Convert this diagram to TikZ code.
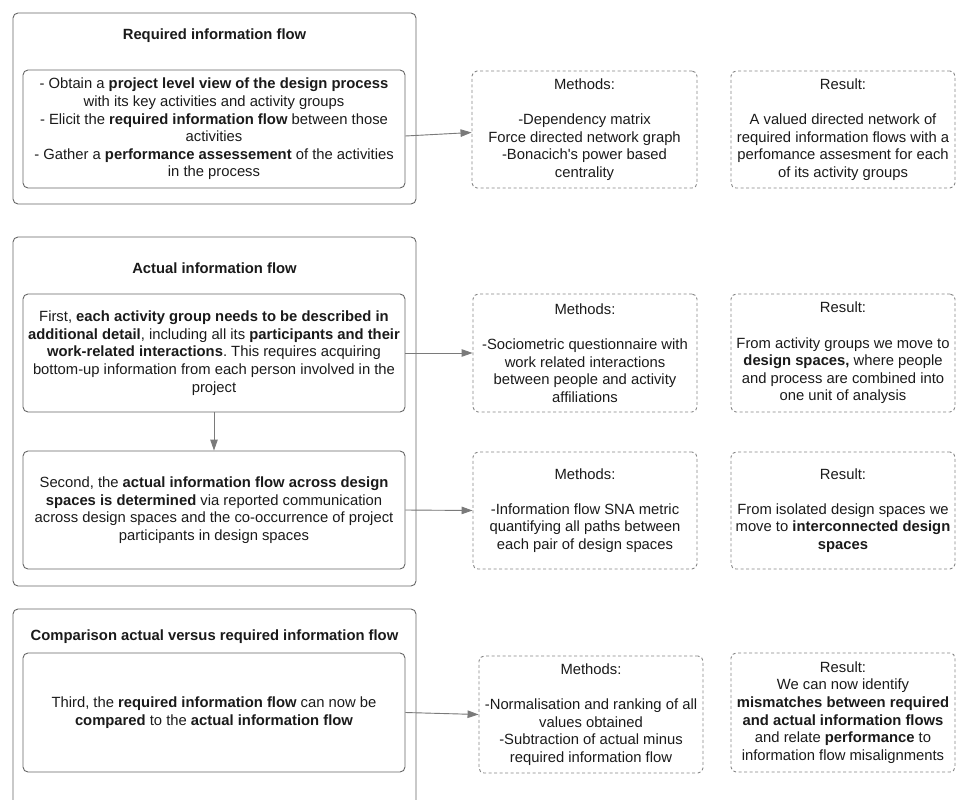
\documentclass[tikz,border=0pt]{standalone}
\usepackage{fontspec}
\setmainfont{Liberation Sans}
\usetikzlibrary{arrows.meta}
\definecolor{solidgray}{HTML}{666666}
\definecolor{dashgray}{HTML}{858585}
\definecolor{arrgray}{HTML}{7A7A7A}
\definecolor{txt}{HTML}{1A1A1A}
\frenchspacing
\begin{document}
\begin{tikzpicture}[x=1pt,y=-1pt,
  every node/.style={font=\fontsize{14.8}{17.6}\selectfont\frenchspacing, text=txt},
  outerbox/.style={draw=solidgray, line width=0.9pt, rounded corners=5pt, inner sep=0pt},
  inbox/.style={draw=solidgray, line width=0.9pt, rounded corners=5pt, align=center, inner sep=0pt, minimum width=382pt},
  dbox/.style={draw=dashgray, line width=0.9pt, dash pattern=on 3pt off 2.5pt, rounded corners=5pt, align=center, inner sep=0pt, minimum width=224pt},
  titletext/.style={font=\fontsize{14.8}{17.6}\selectfont\bfseries},
  arr/.style={draw=arrgray, line width=0.9pt, -{Triangle[length=11pt,width=7.5pt]}, fill=arrgray}
]
\useasboundingbox (0,0) rectangle (961,800);

% ---------- Section 1 ----------
\node[outerbox, minimum width=403pt, minimum height=191pt] (out1) at (214.5,108.5) {};
\node[titletext] (t1) at (214.5,36) {Required information flow};
\node[inbox, minimum height=118pt] (in1) at (214,129) {- Obtain a \textbf{project level view of the design process}\\with its key activities and activity groups\\- Elicit the \textbf{required information flow} between those\\activities\\- Gather a \textbf{performance assessement} of the activities\\in the process};
\node[dbox, minimum width=225pt, minimum height=117pt] (m1) at (584.5,129.5) {Methods:\\\strut\\-Dependency matrix\\Force directed network graph\\-Bonacich\textquotesingle s power based\\centrality};
\node[dbox, minimum height=117pt] (r1) at (843,129.5) {Result:\\\strut\\A valued directed network of\\required information flows with a\\perfomance assesment for each\\of its activity groups};
\draw[arr] ([yshift=-7pt]in1.east) -- ([yshift=-3pt]m1.west);

% ---------- Section 2 ----------
\node[outerbox, minimum width=403pt, minimum height=349pt] (out2) at (214.5,411.5) {};
\node[titletext] (t2) at (214.5,268) {Actual information flow};
\node[inbox, minimum height=118pt] (in2a) at (214,353) {First, \textbf{each activity group needs to be described in}\\\textbf{additional detail}, including all its \textbf{participants and their}\\\textbf{work-related interactions}. This requires acquiring\\bottom-up information from each person involved in the\\project};
\node[inbox, minimum height=118pt] (in2b) at (214,510) {Second, the \textbf{actual information flow across design}\\\textbf{spaces is determined} via reported communication\\across design spaces and the co-occurrence of project\\participants in design spaces};
\node[dbox, minimum height=118pt] (m2a) at (585,353) {Methods:\\\strut\\-Sociometric questionnaire with\\work related interactions\\between people and activity\\affiliations};
\node[dbox, minimum height=118pt] (r2a) at (843,353) {Result:\\\strut\\From activity groups we move to\\\textbf{design spaces,} where people\\and process are combined into\\one unit of analysis};
\node[dbox, minimum height=117pt] (m2b) at (585,510.5) {Methods:\\\strut\\-Information flow SNA metric\\quantifying all paths between\\each pair of design spaces};
\node[dbox, minimum height=117pt] (r2b) at (843,510.5) {Result:\\\strut\\From isolated design spaces we\\move to \textbf{interconnected design}\\\textbf{spaces}};
\draw[arr] (in2a) -- (in2b);
\draw[arr] (in2a.east) -- (m2a.west);
\draw[arr] (in2b.east) -- (m2b.west);

% ---------- Section 3 ----------
\draw[draw=solidgray, line width=0.9pt, rounded corners=5pt] (13,805) -- (13,609) -- (416,609) -- (416,805);
\node[titletext] (t3) at (214.5,637) {Comparison actual versus required information flow};
\node[inbox, minimum height=119pt] (in3) at (214,712.5) {Third, the \textbf{required information flow} can now be\\\textbf{compared} to the \textbf{actual information flow}};
\node[dbox, minimum height=117pt] (m3) at (591,714.5) {Methods:\\\strut\\-Normalisation and ranking of all\\values obtained\\-Subtraction of actual minus\\required information flow};
\node[dbox, minimum height=119pt] (r3) at (843,712.5) {Result:\\We can now identify\\\textbf{mismatches between required}\\\textbf{and actual information flows}\\and relate \textbf{performance} to\\information flow misalignments};
\draw[arr] (in3.east) -- (m3.west);
\end{tikzpicture}
\end{document}
